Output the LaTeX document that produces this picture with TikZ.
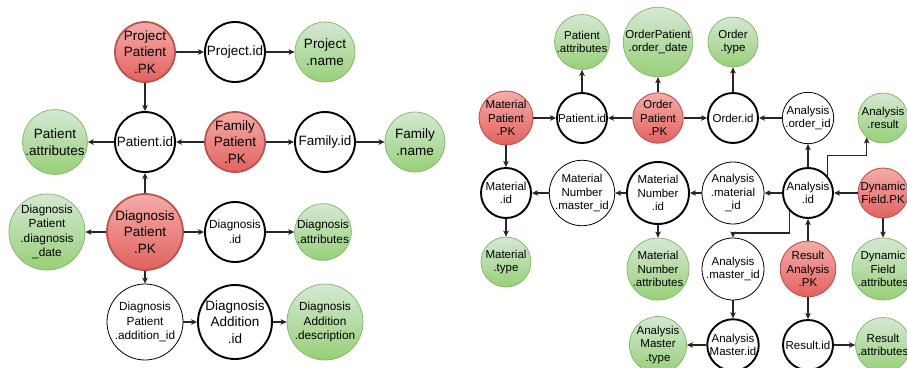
\documentclass[tikz,border=0pt]{standalone}
\usepackage{fontspec}
\setmainfont{Liberation Sans}
\usetikzlibrary{arrows.meta}
\definecolor{pkline}{HTML}{B85450}
\definecolor{pktop}{HTML}{F4ACA9}
\definecolor{pkbot}{HTML}{E2625E}
\definecolor{atline}{HTML}{82B366}
\definecolor{attop}{HTML}{D5E8D4}
\definecolor{atbot}{HTML}{97D077}
\definecolor{edgecol}{HTML}{262626}
\tikzset{
  base/.style={circle, inner sep=0pt, align=center},
  big/.style={font=\fontsize{13.5}{16.5}\selectfont},
  mid/.style={font=\fontsize{11.8}{14.5}\selectfont},
  small/.style={font=\fontsize{11.5}{13.6}\selectfont},
  pk/.style={base, draw=pkline, line width=0.9pt, top color=pktop, bottom color=pkbot},
  pkL/.style={pk, line width=1.8pt},
  attr/.style={base, draw=atline, line width=0.7pt, top color=attop, bottom color=atbot},
  idn/.style={base, draw=black, line width=1.9pt, fill=white},
  fk/.style={base, draw=black, line width=0.8pt, fill=white},
  rr/.style={minimum size=#1*2pt},
  arr/.style={draw=edgecol, line width=1.1pt, -{Stealth[length=6pt,width=5.5pt,inset=1.5pt]}},
}
\begin{document}
\begin{tikzpicture}[x=1pt,y=-1pt]
\useasboundingbox (0,0) rectangle (907,367);
\clip (0,0) rectangle (907,367);
\fill[white] (0,0) rectangle (907,367);
% ---------- left diagram ----------
\node[pkL,big,rr=30] (ppk) at (145,52) {Project\\Patient\\.PK};
\node[idn,big,rr=30] (projid) at (235,52) {Project.id};
\node[attr,big,rr=30] (projname) at (325,52) {Project\\.name};
\node[idn,big,rr=30] (patid) at (145,142) {Patient.id};
\node[pkL,big,rr=30] (fampk) at (235,142) {Family\\Patient\\.PK};
\node[idn,big,rr=30] (famid) at (325,142) {Family.id};
\node[attr,big,rr=30] (famname) at (415,142) {Family\\.name};
\node[attr,big,rr=30] (patattr) at (55,142) {Patient\\.attributes};
\node[pkL,big,rr=38] (dpk) at (145,232) {Diagnosis\\Patient\\.PK};
\node[attr,mid,rr=37] (ddate) at (47,232) {Diagnosis\\Patient\\.diagnosis\\\_date};
\node[idn,mid,rr=30] (did) at (235,232) {Diagnosis\\.id};
\node[attr,mid,rr=28] (dattr) at (323,232) {Diagnosis\\.attributes};
\node[fk,mid,rr=38] (daddid) at (145,322) {Diagnosis\\Patient\\.addition\_id};
\node[idn,big,rr=37] (daid) at (235,322) {Diagnosis\\Addition\\.id};
\node[attr,mid,rr=38] (dadesc) at (325,322) {Diagnosis\\Addition\\.description};
\draw[arr] (ppk) -- (projid);
\draw[arr] (projid) -- (projname);
\draw[arr] (ppk) -- (patid);
\draw[arr] (fampk) -- (patid);
\draw[arr] (fampk) -- (famid);
\draw[arr] (famid) -- (famname);
\draw[arr] (patid) -- (patattr);
\draw[arr] (dpk) -- (patid);
\draw[arr] (dpk) -- (ddate);
\draw[arr] (dpk) -- (did);
\draw[arr] (did) -- (dattr);
\draw[arr] (dpk) -- (daddid);
\draw[arr] (daddid) -- (daid);
\draw[arr] (daid) -- (dadesc);
% ---------- right diagram ----------
\node[attr,small,rr=25] (rpatattr) at (582,42) {Patient\\.attributes};
\node[attr,small,rr=31] (odate) at (658,42) {OrderPatient\\.order\_date};
\node[attr,small,rr=25] (otype) at (733,42) {Order\\.type};
\node[pk,small,rr=25] (mpk) at (506,118) {Material\\Patient\\.PK};
\node[idn,small,rr=25] (rpatid) at (582,118) {Patient.id};
\node[pk,small,rr=25] (opk) at (658,118) {Order\\Patient\\.PK};
\node[idn,small,rr=25] (oid) at (733,118) {Order.id};
\node[fk,small,rr=25] (aoid) at (808,118) {Analysis\\.order\_id};
\node[attr,small,rr=25] (ares) at (883,118) {Analysis\\.result};
\node[idn,small,rr=25] (mid) at (506,193) {Material\\.id};
\node[fk,small,rr=31] (mnmid) at (582,193) {Material\\Number\\.master\_id};
\node[idn,small,rr=31] (mnid) at (658,193) {Material\\Number\\.id};
\node[fk,small,rr=31] (amid) at (733,193) {Analysis\\.material\\\_id};
\node[idn,small,rr=25] (aid) at (808,193) {Analysis\\.id};
\node[pk,small,rr=25] (dfpk) at (883,193) {Dynamic\\Field.PK};
\node[attr,small,rr=25] (mtype) at (506,262) {Material\\.type};
\node[attr,small,rr=31] (mnattr) at (658,269) {Material\\Number\\.attributes};
\node[fk,small,rr=31] (amaster) at (733,269) {Analysis\\.master\_id};
\node[pk,small,rr=25] (rpk) at (808,269) {Result\\Analysis\\.PK};
\node[attr,small,rr=31] (dfattr) at (883,269) {Dynamic\\Field\\.attributes};
\node[attr,small,rr=25] (amtype) at (658,345) {Analysis\\Master\\.type};
\node[idn,small,rr=25] (amasterid) at (733,345) {Analysis\\Master.id};
\node[idn,small,rr=25] (resid) at (808,345) {Result.id};
\node[attr,small,rr=25] (resattr) at (883,345) {Result\\.attributes};
\draw[arr] (rpatid) -- (rpatattr);
\draw[arr] (opk) -- (odate);
\draw[arr] (oid) -- (otype);
\draw[arr] (mpk) -- (rpatid);
\draw[arr] (opk) -- (rpatid);
\draw[arr] (opk) -- (oid);
\draw[arr] (aoid) -- (oid);
\draw[arr] (mpk) -- (mid);
\draw[arr] (mid) -- (mtype);
\draw[arr] (mnmid) -- (mid);
\draw[arr] (mnid) -- (mnmid);
\draw[arr] (amid) -- (mnid);
\draw[arr] (aid) -- (amid);
\draw[arr] (dfpk) -- (aid);
\draw[arr] (dfpk) -- (dfattr);
\draw[arr] (mnid) -- (mnattr);
\draw[arr] (aid) -- (aoid);
\draw[arr] (aid.40) -- ++(0,-21) -| (ares.230);
\draw[arr] (aid.224) -- ++(0,22) -| (amaster.north);
\draw[arr] (rpk) -- (aid);
\draw[arr] (rpk) -- (resid);
\draw[arr] (resid) -- (resattr);
\draw[arr] (amaster) -- (amasterid);
\draw[arr] (amasterid) -- (amtype);
\end{tikzpicture}
\end{document}
